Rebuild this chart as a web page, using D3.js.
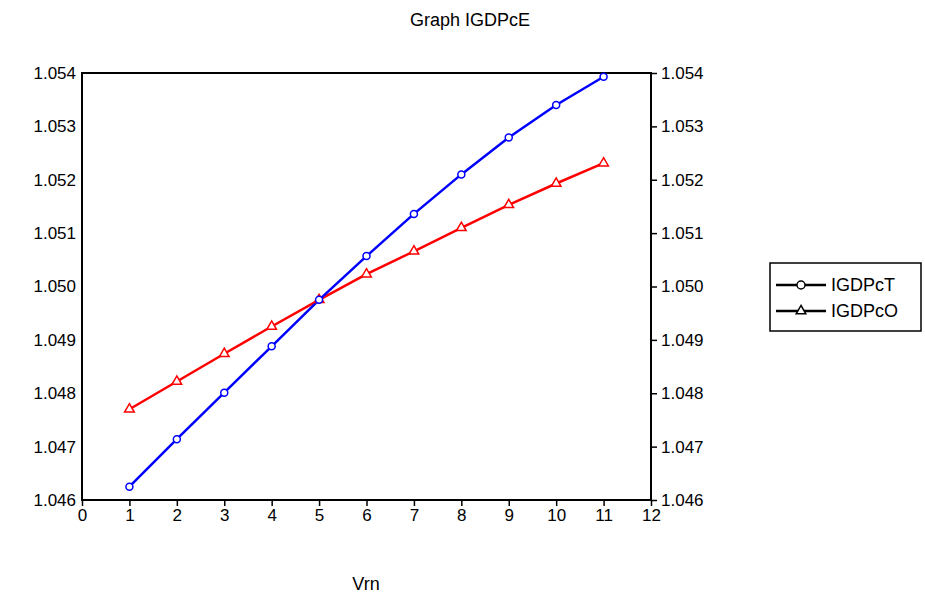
<!DOCTYPE html>
<html><head><meta charset="utf-8">
<script src="https://cdn.jsdelivr.net/npm/d3@7"></script>
<style>body{margin:0;background:#fff}text{font-family:Arial,"Liberation Sans",sans-serif}</style>
</head><body><svg id="c" width="925" height="599"></svg>
<script>
const xs = [1,2,3,4,5,6,7,8,9,10,11];
const igdpcT = [1.04625,1.04714,1.04801,1.04888,1.04975,1.05057,1.05136,1.0521,1.05279,1.0534,1.05393];
const igdpcO = [1.04770,1.04822,1.04874,1.04925,1.04975,1.05023,1.05066,1.05110,1.05153,1.05193,1.05231];
const yTicks = [1.046,1.047,1.048,1.049,1.050,1.051,1.052,1.053,1.054];
const xTicks = [0,1,2,3,4,5,6,7,8,9,10,11,12];
const svg = d3.select("#c");
const L=82,R=651,T=73,B=500;
const x = d3.scaleLinear().domain([0,12]).range([L,R]);
const y = d3.scaleLinear().domain([1.046,1.054]).range([B,T]);
svg.append("rect").attr("x",L).attr("y",T).attr("width",R-L).attr("height",B-T).attr("fill","none").attr("stroke","#000").attr("stroke-width",2);
const fmt = d3.format(".3f");
const la = svg.append("g").attr("transform",`translate(${L},0)`).call(d3.axisLeft(y).tickValues(yTicks).tickFormat(fmt).tickSize(0).tickPadding(6));
const ra = svg.append("g").attr("transform",`translate(${R},0)`).call(d3.axisRight(y).tickValues(yTicks).tickFormat(fmt).tickSize(6).tickPadding(4));
const ba = svg.append("g").attr("transform",`translate(0,${B})`).call(d3.axisBottom(x).tickValues(xTicks).tickSize(6).tickPadding(3));
[la,ra,ba].forEach(a=>{a.select(".domain").remove();a.selectAll("text").style("font-size","17px").attr("fill","#000");a.selectAll("line").attr("stroke","#000").attr("stroke-width",1.5);});
const line = d3.line().x((d,i)=>x(xs[i])).y(d=>y(d));
svg.append("path").datum(igdpcO).attr("d",line).attr("fill","none").attr("stroke","#ff0000").attr("stroke-width",2.5);
svg.append("path").datum(igdpcT).attr("d",line).attr("fill","none").attr("stroke","#0000ff").attr("stroke-width",2.5);
const tri = d3.symbol().type(d3.symbolTriangle).size(40);
svg.selectAll(".t").data(igdpcO).join("path").attr("transform",(d,i)=>`translate(${x(xs[i])},${y(d)})`).attr("d",tri).attr("fill","#fff").attr("stroke","#ff0000").attr("stroke-width",1.5);
svg.selectAll(".o").data(igdpcT).join("circle").attr("cx",(d,i)=>x(xs[i])).attr("cy",d=>y(d)).attr("r",3.5).attr("fill","#fff").attr("stroke","#0000ff").attr("stroke-width",1.5);
svg.append("text").attr("x",470).attr("y",26).attr("text-anchor","middle").style("font-size","18px").text("Graph IGDPcE");
svg.append("text").attr("x",366).attr("y",590).attr("text-anchor","middle").style("font-size","18px").text("Vrn");
const lg = svg.append("g");
lg.append("rect").attr("x",770).attr("y",263).attr("width",151).attr("height",68).attr("fill","#fff").attr("stroke","#000").attr("stroke-width",1.5);
[["IGDPcT",285,"c"],["IGDPcO",311,"t"]].forEach(([n,yy,m])=>{
  lg.append("line").attr("x1",776).attr("x2",826).attr("y1",yy).attr("y2",yy).attr("stroke","#000").attr("stroke-width",2.5);
  if(m==="c") lg.append("circle").attr("cx",801).attr("cy",yy).attr("r",4).attr("fill","#fff").attr("stroke","#000").attr("stroke-width",1.5);
  else lg.append("path").attr("transform",`translate(801,${yy})`).attr("d",tri).attr("fill","#fff").attr("stroke","#000").attr("stroke-width",1.5);
  lg.append("text").attr("x",831).attr("y",yy+6).style("font-size","18px").text(n);
});
</script></body></html>
